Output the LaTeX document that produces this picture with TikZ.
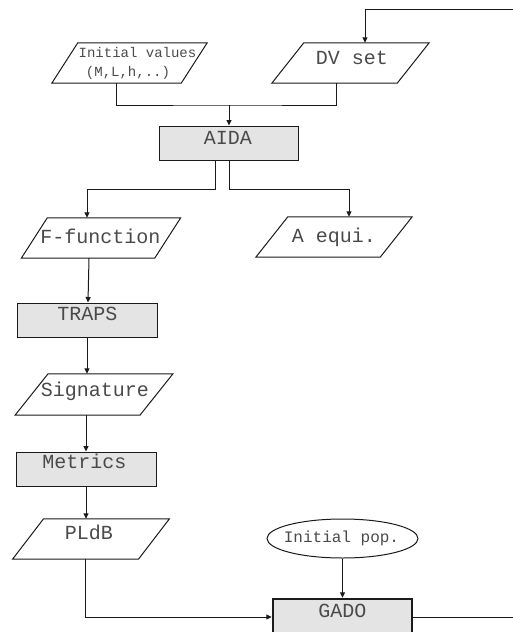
\documentclass[tikz,border=0pt]{standalone}
\usepackage{fontspec}
\setmonofont{Liberation Mono}
\usetikzlibrary{arrows.meta,shapes.geometric}
\definecolor{boxfill}{HTML}{E4E4E4}
\definecolor{txtcol}{HTML}{4A4A4A}
\definecolor{linecol}{HTML}{1A1A1A}
\newcommand\paraout[2]{\draw[ln] ([xshift=#2]#1.north west) -- ([xshift=#2]#1.north east) -- ([xshift=-#2]#1.south east) -- ([xshift=-#2]#1.south west) -- cycle;}
\begin{document}
\begin{tikzpicture}[x=1pt,y=-1pt,
  ln/.style={draw=linecol,line width=1pt},
  arr/.style={ln,-{Triangle[length=5.5pt,width=5pt]}},
  shell/.style={draw=none,inner sep=0,minimum height=40pt},
  procbox/.style={draw=linecol,line width=1pt,fill=boxfill,inner sep=0,minimum width=140pt,minimum height=34pt},
  lbl/.style={font=\ttfamily\fontsize{20}{22}\selectfont,text=txtcol,inner sep=0,anchor=base},
  smalllbl/.style={font=\ttfamily\fontsize{14}{16}\selectfont,text=txtcol,inner sep=0,anchor=base},
]
\useasboundingbox (0,0) rectangle (513,632);
\clip (0,0) rectangle (513,632);

% shapes
\node[shell,minimum width=129pt] (iv) at (129.5,63) {};
\node[shell,minimum width=125pt] (dv) at (350.5,63) {};
\node[procbox,minimum width=139pt] (aida) at (228.5,143) {};
\node[shell,minimum width=133pt] (ff) at (101,238) {};
\node[shell,minimum width=124pt] (aeq) at (334,237) {};
\node[procbox] (traps) at (87,320) {};
\node[shell,minimum width=124.5pt,minimum height=41pt] (sig) at (94,394.5) {};
\node[procbox] (metrics) at (86,469) {};
\node[shell,minimum width=125.5pt] (pldb) at (91,539) {};
\node[ellipse,draw=linecol,line width=1pt,inner sep=0,minimum width=151pt,minimum height=39pt] (ipop) at (342.5,538.5) {};
\node[procbox,minimum width=139pt,minimum height=36pt,line width=2.4pt] (gado) at (342.5,617) {};

\paraout{iv}{13}
\paraout{dv}{16}
\paraout{ff}{13}
\paraout{aeq}{16}
\paraout{sig}{16.5}
\paraout{pldb}{15.5}

% texts
\node[smalllbl] (ivt1) at (137.5,57) {Initial values};
\node[smalllbl] (ivt2) at (128,76) {(M,L,h,..)};
\node[lbl] (dvt) at (352,64) {DV set};
\node[lbl] (aidat) at (228,144) {AIDA};
\node[lbl] (fft) at (100.5,243) {F-function};
\node[lbl] (aeqt) at (334,242) {A equi.};
\node[lbl] (trapst) at (87.5,320) {TRAPS};
\node[lbl] (sigt) at (95,396) {Signature};
\node[lbl] (metricst) at (84.5,468) {Metrics};
\node[lbl] (pldbt) at (89,539) {PLdB};
\node[lbl,font=\ttfamily\fontsize{16}{18}\selectfont] (ipopt) at (341.5,542) {Initial pop.};
\node[lbl] (gadot) at (342.5,617) {GADO};

% connectors
\coordinate (j1) at (229,105);
\coordinate (ret1) at (514,9);
\coordinate (ret2) at (514,617);
\draw[ln] ([xshift=-13.5pt]iv.south) |- (j1) -| ([xshift=-14.5pt]dv.south);
\draw[arr] (j1) -- (j1 |- aida.north);
\draw[arr] (ret1) -| ([xshift=14.5pt]dv.north);
\draw[arr] ([xshift=-13.5pt]aida.south) -- ++(0,29) -| ([xshift=-14pt]ff.north);
\draw[arr] ([xshift=0.5pt]aida.south) -- ++(0,29) -| ([xshift=15pt]aeq.north);
\draw[arr] ([xshift=-12pt]ff.south) -- ([xshift=1pt]traps.north);
\draw[arr] (traps.south) -- ([xshift=-7pt]sig.north);
\draw[arr] ([xshift=-8pt]sig.south) -- (metrics.north);
\draw[arr] (metrics.south) -- ([xshift=-5pt]pldb.north);
\draw[arr] ([xshift=-6pt]pldb.south) |- (gado.west);
\draw[arr] (ipop.south) -- (gado.north);
\draw[ln] (gado.east) -- (ret2);
\end{tikzpicture}
\end{document}
